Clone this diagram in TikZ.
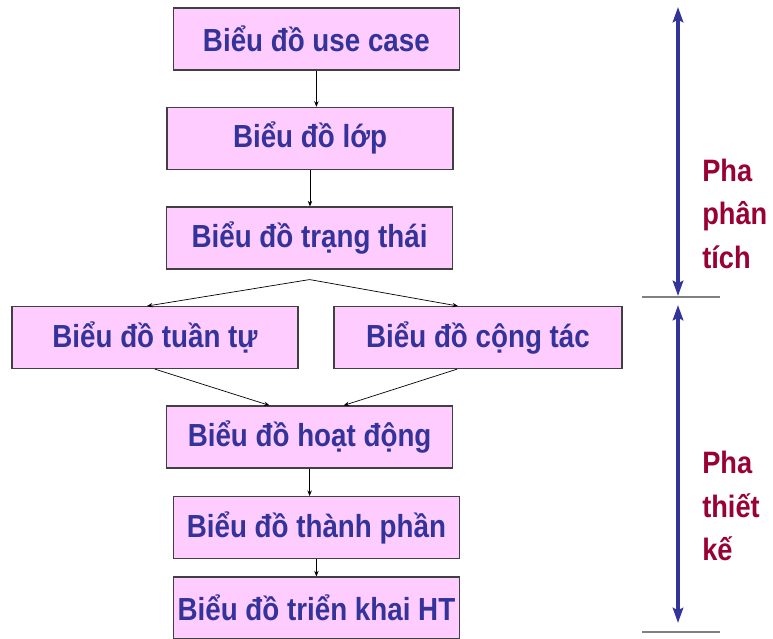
\documentclass[tikz,border=0pt]{standalone}
\usepackage{fontspec}
\setmainfont{Liberation Sans}
\newfontfamily\narrowfont[FakeStretch=0.87]{Liberation Sans}
\newfontfamily\phasefont[FakeStretch=0.88]{Liberation Sans}
\usetikzlibrary{arrows.meta}
\definecolor{boxpink}{RGB}{255,204,255}
\definecolor{textblue}{RGB}{51,51,153}
\definecolor{phasered}{RGB}{153,0,51}
\begin{document}
\begin{tikzpicture}[
    diagram/.style={draw=black!75, line width=0.8pt, fill=boxpink, minimum width=7.15cm, minimum height=1.55cm,
      inner sep=0pt, text=textblue, font=\narrowfont\bfseries\fontsize{22.7}{27}\selectfont},
    phase/.style={anchor=north west, inner sep=0pt, align=left, text=phasered, font=\phasefont\bfseries\fontsize{22}{30.8}\selectfont},
    link/.style={-{Stealth[length=1.4mm,width=1.1mm]}, line width=0.5pt},
    phasearrow/.style={{Stealth[length=3.8mm,width=2.6mm,inset=0.6mm]}-{Stealth[length=3.8mm,width=2.6mm,inset=0.6mm]},
      line width=2.2pt, draw=textblue},
    phaseline/.style={draw=gray, line width=1.4pt}
  ]
  \useasboundingbox (0, 0) rectangle (19.325, 15.95);

  \node [diagram] (usecase) at (7.91, 14.975) {Biểu đồ use case};
  \node [diagram] (lop) at (7.75, 12.49) {Biểu đồ lớp};
  \node [diagram] (trangthai) at (7.74, 10.0) {Biểu đồ trạng thái};
  \node [diagram] (tuantu) at (3.875, 7.51) {Biểu đồ tuần tự};
  \node [diagram, minimum width=7.2cm] (congtac) at (11.95, 7.51) {Biểu đồ cộng tác};
  \node [diagram] (hoatdong) at (7.74, 5.025) {Biểu đồ hoạt động};
  \node [diagram] (thanhphan) at (7.91, 2.76) {Biểu đồ thành phần};
  \node [diagram] (trienkhai) at (7.91, 0.75) {Biểu đồ triển khai HT};

  \draw [link] (usecase.south) -- (usecase.south |- lop.north);
  \draw [link] (lop.south) -- (lop.south |- trangthai.north);
  \coordinate (split) at ([yshift=-0.25cm]trangthai.south);
  \draw [link] (split) -- ([xshift=-0.2cm]tuantu.north);
  \draw [link] (split) -- ([xshift=-0.5cm]congtac.north);
  \draw [link] (tuantu.south) -- ([xshift=-1cm]hoatdong.north);
  \draw [link] ([xshift=-0.525cm]congtac.south) -- ([xshift=0.85cm]hoatdong.north);
  \draw [link] (hoatdong.south) -- (hoatdong.south |- thanhphan.north);
  \draw [link] (thanhphan.south) -- (trienkhai.north);

  \coordinate (anatop) at (16.95, 15.775);
  \coordinate (anabot) at (16.95, 8.55);
  \coordinate (destop) at (16.95, 8.325);
  \coordinate (desbot) at (16.95, 0.375);
  \coordinate (splitleft) at (16.05, 8.525);
  \coordinate (splitright) at (18.0, 8.525);
  \coordinate (endleft) at (16.05, 0.15);
  \coordinate (endright) at (18.0, 0.15);

  \draw [phasearrow] (anatop) -- (anabot);
  \draw [phasearrow] (destop) -- (desbot);
  \draw [phaseline] (splitleft) -- (splitright);
  \draw [phaseline] (endleft) -- (endright);

  \node [phase] (analysis) at (17.55, 11.975) {Pha\\phân\\tích};
  \node [phase] (design) at (17.55, 4.675) {Pha\\thiết\\kế};
\end{tikzpicture}
\end{document}
